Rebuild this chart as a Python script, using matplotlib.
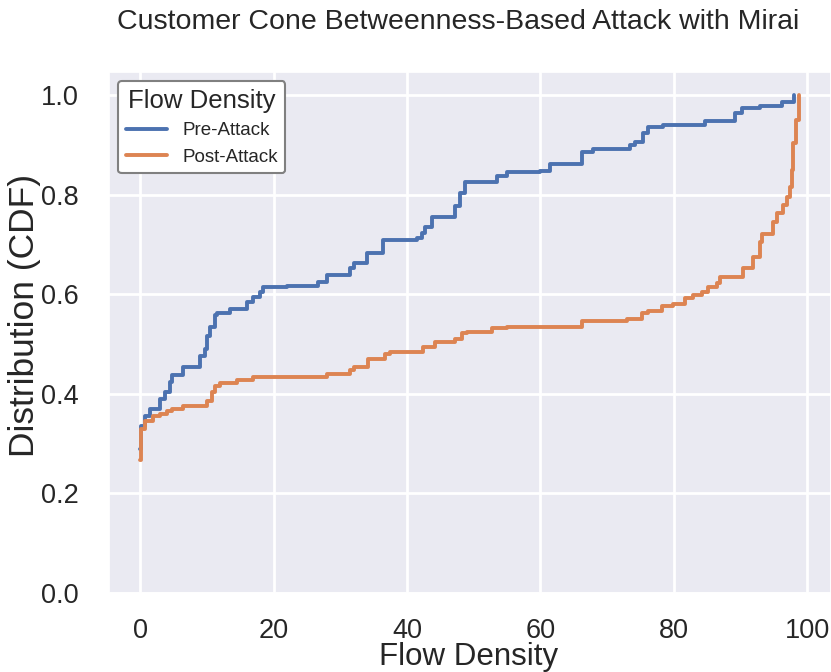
import numpy as np
import matplotlib
matplotlib.use('Agg')
import matplotlib.pyplot as plt
import seaborn as sns

# CDF breakpoints (flow density value, CDF level)
pre_x = [0.0, 0.05, 0.75, 1.5, 3.0, 3.75, 4.5, 4.8, 6.45, 9.0, 9.75, 10.0, 10.5,
         11.25, 11.5, 13.5, 16.0, 16.9, 18.0, 18.4, 22.0, 26.7, 28.0, 31.5, 32.0,
         34.0, 36.4, 41.5, 42.3, 42.7, 43.8, 47.2, 48.0, 48.7, 53.5, 55.0, 60.0,
         61.5, 66.3, 67.9, 73.5, 74.2, 75.4, 76.2, 78.4, 84.7, 89.2, 90.3, 93.0,
         96.3, 98.0]
pre_y = [0.29, 0.335, 0.355, 0.369, 0.389, 0.403, 0.423, 0.437, 0.453, 0.475,
         0.489, 0.515, 0.535, 0.559, 0.563, 0.571, 0.585, 0.595, 0.605, 0.615,
         0.617, 0.625, 0.639, 0.653, 0.663, 0.683, 0.709, 0.713, 0.723, 0.735,
         0.755, 0.776, 0.803, 0.826, 0.837, 0.846, 0.848, 0.862, 0.886, 0.892,
         0.900, 0.906, 0.924, 0.936, 0.940, 0.948, 0.964, 0.974, 0.977, 0.986,
         1.0]

post_x = [0.0, 0.05, 0.75, 1.95, 3.0, 4.05, 4.8, 6.45, 10.0, 10.8, 11.25, 12.0,
          14.5, 16.9, 28.0, 31.5, 32.0, 34.2, 36.7, 37.5, 42.4, 44.2, 47.2, 48.3,
          49.0, 52.8, 55.0, 66.3, 73.0, 75.3, 76.2, 78.3, 79.9, 81.7, 82.9, 84.3,
          85.2, 86.5, 87.0, 90.4, 91.9, 93.0, 93.3, 94.9, 95.5, 96.4, 97.0, 97.5,
          97.8, 97.9, 98.35, 98.8]
post_y = [0.268, 0.329, 0.345, 0.355, 0.359, 0.365, 0.369, 0.375, 0.385, 0.403,
          0.415, 0.421, 0.427, 0.433, 0.439, 0.447, 0.453, 0.469, 0.479, 0.483,
          0.493, 0.503, 0.510, 0.523, 0.525, 0.533, 0.535, 0.547, 0.551, 0.563,
          0.567, 0.577, 0.581, 0.593, 0.599, 0.605, 0.615, 0.623, 0.635, 0.653,
          0.675, 0.705, 0.721, 0.745, 0.763, 0.779, 0.795, 0.815, 0.850, 0.904,
          0.950, 1.0]

series_labels = ['Pre-Attack', 'Post-Attack']

sns.set_theme(style='darkgrid')
plt.rcParams['font.family'] = ['Liberation Sans', 'DejaVu Sans']
plt.rcParams['text.color'] = '#262626'
plt.rcParams['axes.labelcolor'] = '#262626'
plt.rcParams['xtick.color'] = '#262626'
plt.rcParams['ytick.color'] = '#262626'

W, H = 831, 672
fig = plt.figure(figsize=(W / 100, H / 100), dpi=100)
ax = fig.add_axes([109 / W, 1 - 593 / H, (W - 109) / W, (593 - 72) / H])

colors = sns.color_palette('deep')
ax.plot(pre_x, pre_y, drawstyle='steps-post', color=colors[0], lw=2.8,
        label=series_labels[0])
ax.plot(post_x, post_y, drawstyle='steps-post', color=colors[1], lw=2.8,
        label=series_labels[1])

ax.set_xlim(-4.7, 103.6)
ax.set_ylim(0, 1.046)
ax.set_xticks([0, 20, 40, 60, 80, 100])
ax.set_yticks([0.0, 0.2, 0.4, 0.6, 0.8, 1.0])
ax.set_yticklabels(['0.0', '0.2', '0.4', '0.6', '0.8', '1.0'])
ax.tick_params(axis='both', labelsize=19.5)
ax.tick_params(axis='x', pad=12)
ax.tick_params(axis='y', pad=16)
ax.grid(True, color='white', lw=2)

ax.set_xlabel('Flow Density', fontsize=22.5)
ax.set_ylabel('Distribution (CDF)', fontsize=25.5)
ax.xaxis.set_label_coords((469 - 109) / (W - 109), -(657 - 593) / (593 - 72))
ax.yaxis.set_label_coords(-(109 - 25) / (W - 109), (593 - 315) / (593 - 72))
ax.xaxis.label.set_va('center')
ax.yaxis.label.set_va('center')

leg = ax.legend(title='Flow Density', fontsize=13.5, title_fontsize=18.5,
                loc='upper left', frameon=True, fancybox=True,
                bbox_to_anchor=(0.0, 1.0), borderaxespad=0.5,
                handlelength=2.2)
leg.get_frame().set_edgecolor('#808080')
leg.get_frame().set_linewidth(1.5)
leg.get_frame().set_facecolor('white')
leg.get_frame().set_alpha(1.0)

fig.text(458 / W, 1 - 22 / H, 'Customer Cone Betweenness-Based Attack with Mirai',
         ha='center', va='center', fontsize=20.5)

fig.savefig('out.png', dpi=100)
